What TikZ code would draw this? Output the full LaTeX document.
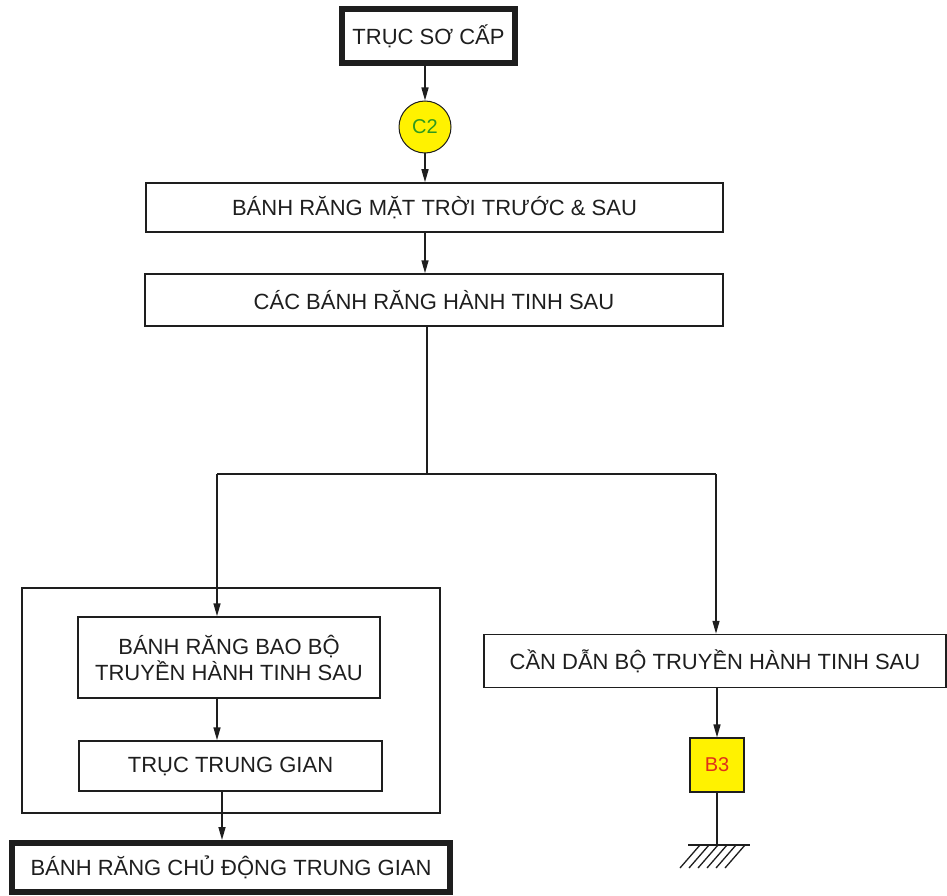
\documentclass[tikz,border=0pt]{standalone}
\usepackage{fontspec}
\setmainfont{Liberation Sans}
\usetikzlibrary{arrows.meta}
\definecolor{inkc}{HTML}{1E1E1E}
\definecolor{brakefill}{HTML}{FFF200}
\definecolor{clutchtext}{HTML}{2E9A1E}
\definecolor{braketext}{HTML}{E0301A}
\tikzset{
  every node/.style={font=\fontsize{22}{26}\selectfont, text=inkc},
  blk/.style={draw=inkc, line width=1.5pt, rectangle, inner sep=0pt, align=center},
  heavy/.style={blk, line width=6pt},
  arr/.style={draw=inkc, line width=1.5pt, -{Triangle[length=13pt,width=7pt]}},
  wire/.style={draw=inkc, line width=1.5pt},
}
\begin{document}
\begin{tikzpicture}[x=1pt, y=-1pt]
\useasboundingbox (0,0) rectangle (947,896);

% input shaft and clutch C2
\node[heavy, minimum width=173pt, minimum height=54pt] (input) at (428.5,36) {TRỤC SƠ CẤP};
\node[circle, draw=inkc, line width=1pt, fill=brakefill, minimum size=52pt, inner sep=0pt,
      text=clutchtext, font=\fontsize{20}{24}\selectfont] (c2) at (425,127) {C2};

% sun gears and rear planetary pinions
\node[blk, minimum width=577pt, minimum height=49pt] (sun) at (434.5,207.5) {BÁNH RĂNG MẶT TRỜI TRƯỚC \& SAU};
\node[blk, minimum width=578pt, minimum height=52pt] (planet) at (434,300) {CÁC BÁNH RĂNG HÀNH TINH SAU};

% left branch: ring gear and intermediate shaft inside a frame
\node[blk, minimum width=418pt, minimum height=225pt] (frame) at (231,700.5) {};
\node[blk, minimum width=302pt, minimum height=81pt] (ring) at (229,657.5) {BÁNH RĂNG BAO BỘ\\TRUYỀN HÀNH TINH SAU};
\node[blk, minimum width=303pt, minimum height=50pt] (inter) at (230.5,766) {TRỤC TRUNG GIAN};
\node[heavy, minimum width=438pt, minimum height=49pt] (drive) at (231,867.5) {BÁNH RĂNG CHỦ ĐỘNG TRUNG GIAN};

% right branch: carrier held by brake B3
\node[blk, minimum width=462pt, minimum height=53pt] (carrier) at (715,661) {CẦN DẪN BỘ TRUYỀN HÀNH TINH SAU};
\node[rectangle, draw=inkc, line width=1.2pt, fill=brakefill, minimum size=54pt, inner sep=0pt,
      text=braketext, font=\fontsize{20}{24}\selectfont] (b3) at (717,765) {B3};

% connectors
\coordinate (xin) at (425,0);
\draw[arr] (input.south -| xin) -- (c2.north);
\draw[arr] (c2.south) -- (sun.north -| xin);
\draw[arr] (sun.south -| xin) -- (planet.north -| xin);

\coordinate (jm) at (427,474);
\coordinate (jl) at (217,474);
\coordinate (jr) at (716,474);
\draw[wire] (planet.south -| jm) -- (jm);
\draw[wire] (jl) -- (jr);
\draw[arr] (jl) -- (jl |- ring.north);
\draw[arr] (jr) -- (jr |- carrier.north);

\coordinate (xl) at (217,0);
\coordinate (xd) at (222,0);
\draw[arr] (ring.south -| xl) -- (inter.north -| xl);
\draw[arr] (inter.south -| xd) -- (drive.north -| xd);

\coordinate (xr) at (717,0);
\draw[arr] (carrier.south -| xr) -- (b3.north);

% ground symbol under the brake
\coordinate (gnd) at (717,845);
\draw[wire] (b3.south) -- (gnd);
\draw[wire] (688,845) -- (750,845);
\foreach \hx in {700,709,718,727,736,745}
  \draw[draw=inkc, line width=1.3pt] (\hx,845) -- (\hx-20,868);
\end{tikzpicture}
\end{document}
